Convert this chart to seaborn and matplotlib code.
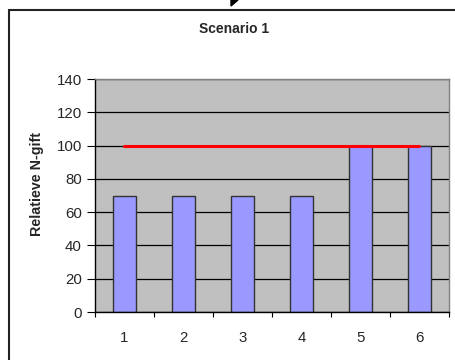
import matplotlib
matplotlib.use("Agg")
import matplotlib.pyplot as plt
import seaborn as sns
import pandas as pd
import numpy as np
from matplotlib.lines import Line2D
from matplotlib.patches import Polygon

categories = ["1", "2", "3", "4", "5", "6"]
n_gift = [70, 70, 70, 70, 100, 100]
norm = [100, 100, 100, 100, 100, 100]
y_ticks = [0, 20, 40, 60, 80, 100, 120, 140]

sns.set_style("white")
plt.rcParams["font.family"] = ["Liberation Sans", "DejaVu Sans"]

df = pd.DataFrame({"cat": categories, "val": n_gift, "norm": norm})

fig = plt.figure(figsize=(4.56, 3.6), dpi=100)
ax = fig.add_axes([95/456, 1-312/360, (448.7-95)/456, (312-79)/360])
ax.set_facecolor("#C0C0C0")
ax.set_axisbelow(True)

sns.barplot(data=df, x="cat", y="val", order=categories, color="#9999FF",
            saturation=1, width=0.39, edgecolor="#333333", linewidth=1.0, ax=ax)
sns.pointplot(data=df, x="cat", y="norm", order=categories, color="#FF0000",
              markers="", linestyles="-", errorbar=None, ax=ax)
for l in ax.lines:
    l.set_linewidth(2.2)
    l.set_zorder(5)

ax.set_xlim(-0.5, 5.5)
ax.set_ylim(0, 140)
ax.set_yticks(y_ticks)
ax.yaxis.grid(True, color="black", linewidth=0.9)
ax.xaxis.grid(False)
ax.set_xlabel("")
ax.set_ylabel("")

ax.tick_params(axis="y", which="major", direction="out", length=6, width=0.8,
               color="black", pad=3.5, labelsize=10.8, left=True)
ax.tick_params(axis="x", which="major", length=0, pad=13.5, labelsize=10.8)
ax.set_xticks(np.arange(-0.5, 6.0, 1.0), minor=True)
ax.tick_params(axis="x", which="minor", direction="out", length=3.6, width=0.8,
               color="black", bottom=True)

for s in ["left", "bottom"]:
    ax.spines[s].set_color("black")
    ax.spines[s].set_linewidth(1.0)
for s in ["top", "right"]:
    ax.spines[s].set_color("#808080")
    ax.spines[s].set_linewidth(1.0)
    ax.spines[s].set_visible(True)

fig.text(234.5/456, 1-29/360, "Scenario 1", ha="center", va="center",
         fontsize=10, fontweight="bold")
fig.text(37/456, 1-184/360, "Relatieve N-gift", ha="center", va="center",
         rotation=90, fontsize=10.3, fontweight="bold")

# outer chart frame (left and top edges visible)
fig.add_artist(Line2D([9/456, 9/456], [1-10/360, 0], transform=fig.transFigure,
                      color="#222222", linewidth=1.5))
fig.add_artist(Line2D([9/456, 1], [1-10/360, 1-10/360], transform=fig.transFigure,
                      color="#222222", linewidth=1.5))
# small cursor triangle at top
fig.add_artist(Polygon([[231/456, 1-0/360], [238/456, 1-0/360], [231/456, 1-6/360]],
                       closed=True, transform=fig.transFigure, color="black"))

fig.savefig("out.png", dpi=100, facecolor="white")
